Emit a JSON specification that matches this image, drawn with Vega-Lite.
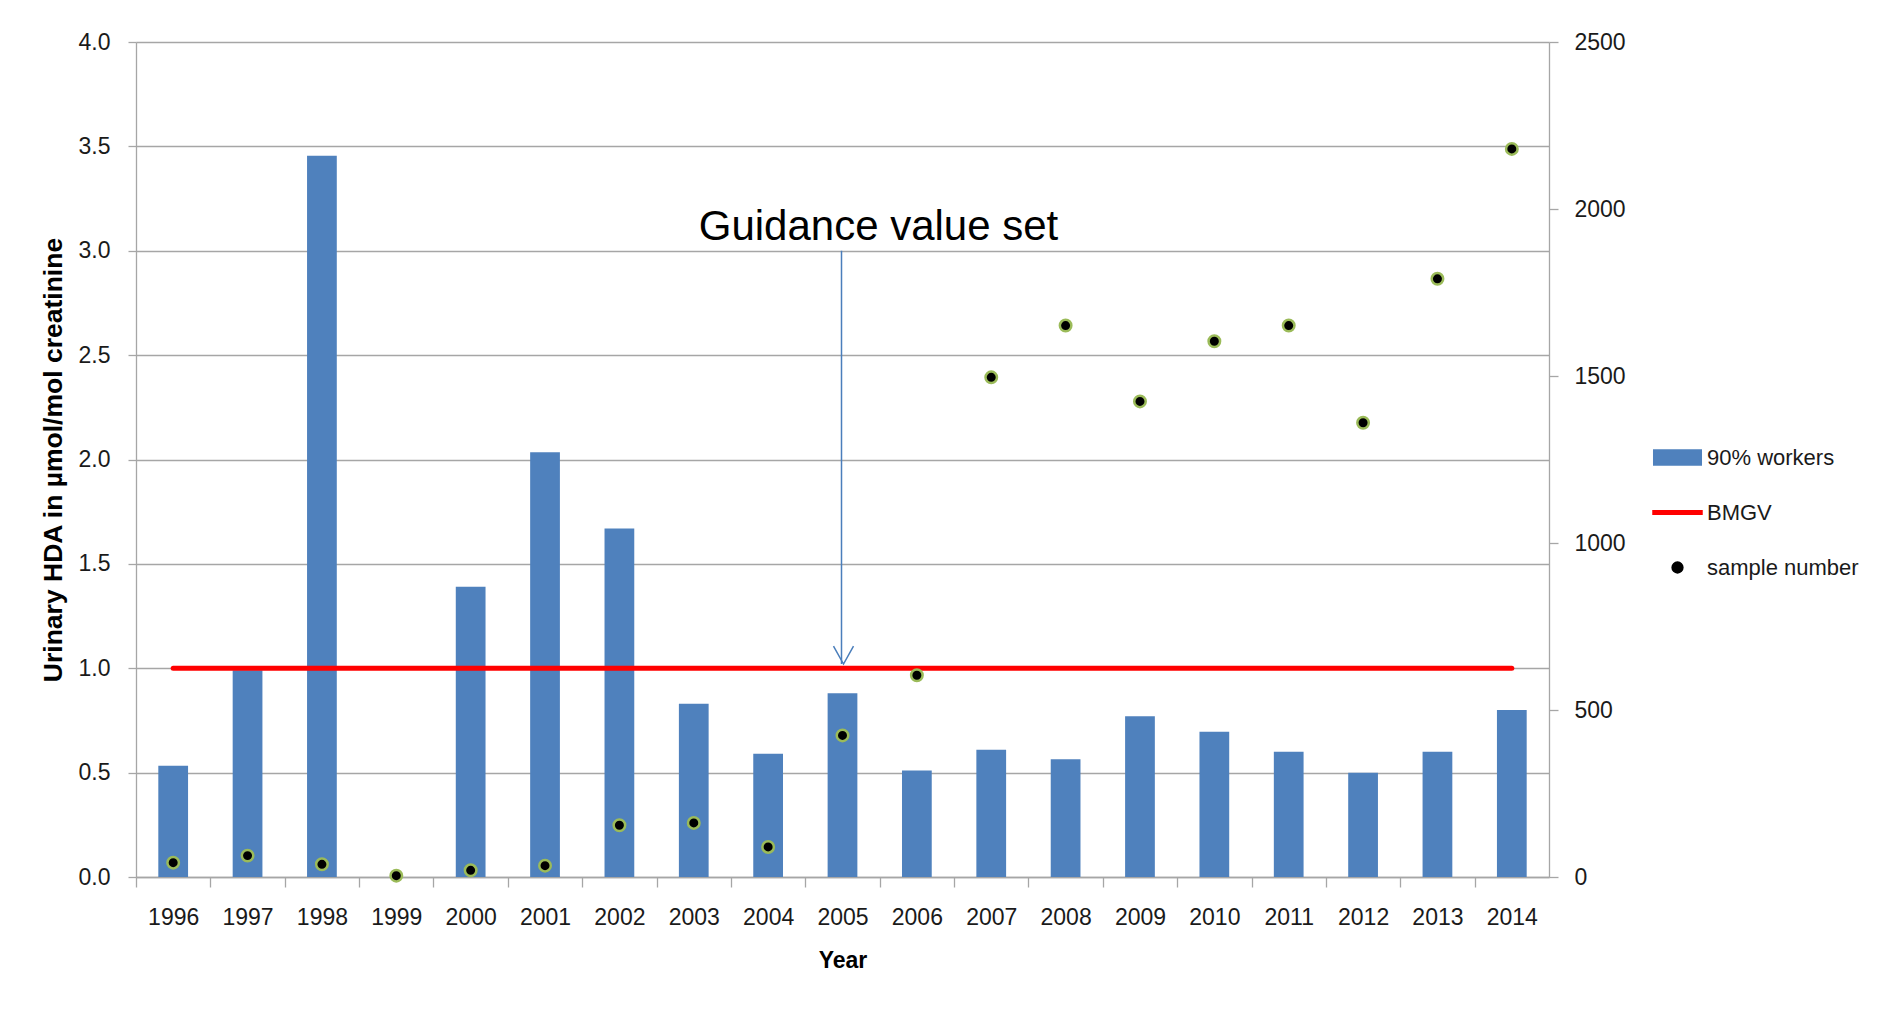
{
  "$schema": "https://vega.github.io/schema/vega-lite/v6.json",
  "autosize": "none",
  "width": 1413,
  "height": 835,
  "padding": {"left": 136, "top": 42, "right": 334, "bottom": 135},
  "background": "white",
  "config": {
    "font": "Liberation Sans",
    "view": {"stroke": null},
    "axis": {
      "domainColor": "#a6a6a6",
      "domainWidth": 1.3,
      "tickColor": "#a6a6a6",
      "tickWidth": 1.3,
      "gridColor": "#a6a6a6",
      "gridWidth": 1.3,
      "labelFont": "Liberation Sans",
      "labelFontSize": 23,
      "labelColor": "#1a1a1a",
      "titleFont": "Liberation Sans",
      "titleColor": "#000000",
      "titleFontWeight": "bold"
    }
  },
  "datasets": {
    "hda": [
      {"Year": "1996", "p90": 0.533, "bmgv": 1, "samples": 43},
      {"Year": "1997", "p90": 0.99, "bmgv": 1, "samples": 64},
      {"Year": "1998", "p90": 3.455, "bmgv": 1, "samples": 38},
      {"Year": "1999", "p90": null, "bmgv": 1, "samples": 4},
      {"Year": "2000", "p90": 1.39, "bmgv": 1, "samples": 20},
      {"Year": "2001", "p90": 2.035, "bmgv": 1, "samples": 34},
      {"Year": "2002", "p90": 1.67, "bmgv": 1, "samples": 155},
      {"Year": "2003", "p90": 0.83, "bmgv": 1, "samples": 162},
      {"Year": "2004", "p90": 0.59, "bmgv": 1, "samples": 90},
      {"Year": "2005", "p90": 0.88, "bmgv": 1, "samples": 424},
      {"Year": "2006", "p90": 0.51, "bmgv": 1, "samples": 604},
      {"Year": "2007", "p90": 0.61, "bmgv": 1, "samples": 1496},
      {"Year": "2008", "p90": 0.564, "bmgv": 1, "samples": 1651},
      {"Year": "2009", "p90": 0.77, "bmgv": 1, "samples": 1424},
      {"Year": "2010", "p90": 0.696, "bmgv": 1, "samples": 1604},
      {"Year": "2011", "p90": 0.6, "bmgv": 1, "samples": 1651},
      {"Year": "2012", "p90": 0.5, "bmgv": 1, "samples": 1360},
      {"Year": "2013", "p90": 0.6, "bmgv": 1, "samples": 1791},
      {"Year": "2014", "p90": 0.8, "bmgv": 1, "samples": 2180}
    ],
    "annot": [
      {"Year": "2005", "arrow_top": 3.0, "arrow_tip": 1.02, "label_y": 3.05, "label": "Guidance value set"}
    ]
  },
  "encoding": {
    "x": {
      "field": "Year",
      "type": "ordinal",
      "scale": {
        "domain": ["1996","1997","1998","1999","2000","2001","2002","2003","2004","2005","2006","2007","2008","2009","2010","2011","2012","2013","2014"],
        "paddingInner": 0.6,
        "paddingOuter": 0.3
      },
      "axis": {
        "labelAngle": 0,
        "bandPosition": 0.5,
        "tickOffset": -37.19,
        "labelOffset": 37.19,
        "tickSize": 10,
        "labelPadding": 19,
        "grid": false,
        "title": "Year",
        "titleFontSize": 23,
        "titlePadding": 20
      }
    }
  },
  "layer": [
    {
      "layer": [
        {
          "data": {"name": "hda"},
          "mark": {"type": "bar"},
          "encoding": {
            "y": {
              "field": "p90",
              "type": "quantitative",
              "scale": {"domain": [0, 4], "nice": false},
              "axis": {
                "orient": "left",
                "values": [0, 0.5, 1, 1.5, 2, 2.5, 3, 3.5, 4],
                "format": ".1f",
                "grid": true,
                "tickSize": 8,
                "labelPadding": 18,
                "title": "Urinary HDA in µmol/mol creatinine",
                "titleFontSize": 26.5,
                "titlePadding": 11
              }
            },
            "color": {
              "datum": "90% workers",
              "scale": {
                "domain": ["90% workers", "BMGV", "sample number"],
                "range": ["#4f81bd", "#ff0000", "#000000"]
              },
              "legend": {
                "orient": "none",
                "legendX": 1516,
                "legendY": 390,
                "title": null,
                "padding": 0,
                "symbolSize": 2401,
                "symbolStrokeWidth": 1.5,
                "labelFont": "Liberation Sans",
                "labelFontSize": 22,
                "labelColor": "#1a1a1a",
                "labelOffset": 4,
                "rowPadding": 18,
                "encode": {
                  "symbols": {
                    "update": {
                      "shape": {"signal": "datum.value === 'BMGV' ? 'M-1,-0.07L1,-0.07L1,0.07L-1,0.07Z' : datum.value === 'sample number' ? 'M0,-0.22A0.22,0.22,0,1,1,0,0.22A0.22,0.22,0,1,1,0,-0.22Z' : 'M-0.97,-0.31L0.97,-0.31L0.97,0.31L-0.97,0.31Z'"},
                      "fill": {"signal": "datum.value === 'BMGV' ? '#ff0000' : datum.value === 'sample number' ? '#000000' : '#4f81bd'"},
                      "stroke": {"signal": "datum.value === 'BMGV' ? '#ff0000' : datum.value === 'sample number' ? '#9bbb59' : '#4f81bd'"},
                      "opacity": {"value": 1},
                      "fillOpacity": {"value": 1},
                      "strokeOpacity": {"value": 1}
                    }
                  }
                }
              }
            }
          }
        },
        {
          "data": {"name": "hda"},
          "mark": {"type": "line", "strokeWidth": 5, "strokeCap": "round"},
          "encoding": {
            "y": {"field": "bmgv", "type": "quantitative"},
            "color": {"datum": "BMGV"}
          }
        },
        {
          "data": {"name": "annot"},
          "mark": {"type": "rule", "color": "#4a7ebb", "strokeWidth": 1.5, "xOffset": -1},
          "encoding": {
            "y": {"field": "arrow_top", "type": "quantitative"},
            "y2": {"field": "arrow_tip"}
          }
        },
        {
          "data": {"name": "annot"},
          "mark": {"type": "point", "shape": "M-1,-1.8L0,0L1,-1.8", "filled": false, "stroke": "#4a7ebb", "strokeWidth": 1.5, "size": 400, "opacity": 1, "xOffset": 1},
          "encoding": {
            "y": {"field": "arrow_tip", "type": "quantitative"}
          }
        },
        {
          "data": {"name": "annot"},
          "mark": {"type": "text", "font": "Liberation Sans", "fontSize": 42, "align": "center", "baseline": "alphabetic", "dx": 36, "color": "#000000"},
          "encoding": {
            "y": {"field": "label_y", "type": "quantitative"},
            "text": {"field": "label"}
          }
        }
      ]
    },
    {
      "data": {"name": "hda"},
      "mark": {"type": "point", "shape": "circle", "filled": true, "size": 132, "stroke": "#9bbb59", "strokeWidth": 2.5, "opacity": 1},
      "encoding": {
        "y": {
          "field": "samples",
          "type": "quantitative",
          "scale": {"domain": [0, 2500], "nice": false},
          "axis": {
            "orient": "right",
            "values": [0, 500, 1000, 1500, 2000, 2500],
            "format": "d",
            "grid": false,
            "tickSize": 9,
            "labelPadding": 16,
            "title": null
          }
        },
        "color": {"datum": "sample number"}
      }
    }
  ],
  "resolve": {"scale": {"y": "independent"}}
}
